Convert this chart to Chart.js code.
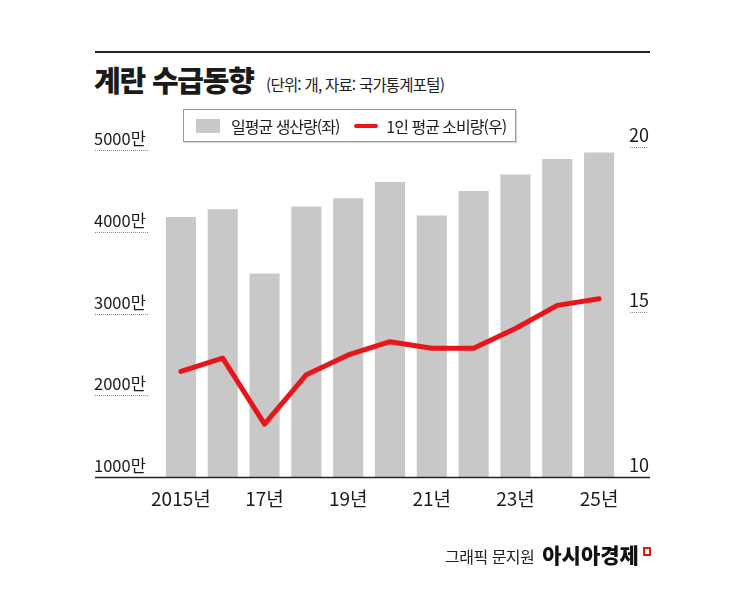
<!DOCTYPE html>
<html lang="ko">
<head>
<meta charset="utf-8">
<script src="https://cdn.jsdelivr.net/npm/chart.js@4.4.1/dist/chart.umd.min.js"></script>
<style>
    html, body { margin: 0; padding: 0; background: #fff; }
    body { width: 745px; height: 596px; position: relative; overflow: hidden;
           font-family: "Noto Sans CJK KR", "Noto Sans", sans-serif; color: #1a1a1a; }
    #chart { position: absolute; left: 0; top: 0; }
    .rule { position: absolute; left: 95px; top: 51px; width: 555px; height: 2px; background: #222; }
    .title { position: absolute; left: 94px; top: 58px; font-size: 29px; font-weight: 900; letter-spacing: -1.2px; }
    .sub { position: absolute; left: 266px; top: 73px; font-size: 15.5px; letter-spacing: -0.8px; color: #222; }
    #legend { position: absolute; left: 183px; top: 109px; width: 331px; height: 31px;
              border: 1px solid #999; background: #fff; font-size: 16px; letter-spacing: -1px;
              display: flex; align-items: center; z-index: 2; box-shadow: 1px 1px 1px rgba(0,0,0,0.15); }
    #legend .item { display: flex; align-items: center; }
    #legend .sw { display: inline-block; margin-right: 11px; }
    .footer { position: absolute; left: 445px; top: 539px; font-size: 16px; letter-spacing: -0.5px; color: #222; }
    .footer b { font-size: 21px; font-weight: 900; letter-spacing: 0px; color: #111; margin-left: 4px; }
    .mark { position: absolute; left: 643px; top: 547px; width: 4px; height: 5px; border: 2px solid #e8151b; }
</style>
</head>
<body>
<div class="rule"></div>
<div class="title">계란 수급동향</div>
<div class="sub">(단위: 개, 자료: 국가통계포털)</div>
<div id="legend"></div>
<canvas id="chart" width="745" height="596"></canvas>
<div class="footer">그래픽 문지원 <b>아시아경제</b></div>
<div class="mark"></div>
<script>
// 연도별 데이터 (생산량: 만 개, 소비량: 개)
const years = ['2015', '2016', '2017', '2018', '2019', '2020', '2021', '2022', '2023', '2024', '2025'];
const yearLabels = ['2015년', '', '17년', '', '19년', '', '21년', '', '23년', '', '25년'];
const production = [4180, 4275, 3490, 4310, 4410, 4610, 4200, 4500, 4700, 4890, 4970];
const consumption = [13.2, 13.6, 11.6, 13.1, 13.7, 14.1, 13.9, 13.9, 14.5, 15.2, 15.4];

const leftTicks = [1000, 2000, 3000, 4000, 5000];
const leftTickLabels = ['1000만', '2000만', '3000만', '4000만', '5000만'];
const rightTicks = [10, 15, 20];
const rightTickLabels = ['10', '15', '20'];

const barColor = '#c8c8c8';
const lineColor = '#e8151b';

// 축 라벨, 점선, 기준선 그리기
const axisPlugin = {
    id: 'axisLabels',
    afterDraw(chart) {
        const ctx = chart.ctx;
        const area = chart.chartArea;
        const y = chart.scales.y;
        const y1 = chart.scales.y1;
        const x = chart.scales.x;
        ctx.save();
        ctx.fillStyle = '#1a1a1a';
        ctx.textBaseline = 'alphabetic';

        ctx.font = '16.5px "Noto Sans CJK KR"';
        ctx.textAlign = 'left';
        leftTicks.forEach((v, i) => {
            const py = Math.round(y.getPixelForValue(v));
            ctx.fillText(leftTickLabels[i], 94, py - 5);
            if (i > 0) {
                ctx.strokeStyle = '#888';
                ctx.lineWidth = 1;
                ctx.setLineDash([1, 1]);
                ctx.beginPath();
                ctx.moveTo(95, py + 0.5);
                ctx.lineTo(148, py + 0.5);
                ctx.stroke();
            }
        });

        ctx.font = '18px "Noto Sans CJK KR"';
        rightTicks.forEach((v, i) => {
            const py = Math.round(y1.getPixelForValue(v));
            ctx.fillText(rightTickLabels[i], 629, py - 5);
            if (i > 0) {
                ctx.strokeStyle = '#888';
                ctx.lineWidth = 1;
                ctx.setLineDash([1, 1]);
                ctx.beginPath();
                ctx.moveTo(630, py + 0.5);
                ctx.lineTo(648, py + 0.5);
                ctx.stroke();
            }
        });

        ctx.setLineDash([]);
        ctx.strokeStyle = '#222';
        ctx.lineWidth = 1.5;
        ctx.beginPath();
        ctx.moveTo(95, area.bottom + 0.5);
        ctx.lineTo(650, area.bottom + 0.5);
        ctx.stroke();

        ctx.font = '19px "Noto Sans CJK KR"';
        ctx.textAlign = 'center';
        yearLabels.forEach((label, i) => {
            if (!label) return;
            ctx.fillText(label, x.getPixelForValue(i), area.bottom + 29);
        });
        ctx.restore();
    }
};

const chart = new Chart(document.getElementById('chart'), {
    type: 'bar',
    data: {
        labels: years,
        datasets: [{
            type: 'line',
            label: '1인 평균 소비량(우)',
            data: consumption,
            borderColor: lineColor,
            backgroundColor: lineColor,
            borderWidth: 5,
            pointRadius: 0,
            borderCapStyle: 'round',
            borderJoinStyle: 'round',
            tension: 0,
            yAxisID: 'y1',
            order: 1
        }, {
            label: '일평균 생산량(좌)',
            data: production,
            backgroundColor: barColor,
            barPercentage: 0.72,
            categoryPercentage: 1,
            yAxisID: 'y',
            order: 2
        }]
    },
    options: {
        responsive: false,
        animation: false,
        layout: { padding: { left: 160, right: 125, top: 147, bottom: 119 } },
        plugins: {
            legend: { display: false },
            tooltip: { enabled: false }
        },
        scales: {
            x: { display: false },
            y: { display: false, min: 1000, max: 5037 },
            y1: { display: false, min: 10, max: 20, position: 'right' }
        }
    },
    plugins: [axisPlugin]
});

// 범례 (데이터셋에서 생성)
const legend = document.getElementById('legend');
[chart.data.datasets[1], chart.data.datasets[0]].forEach((ds, i) => {
    const item = document.createElement('span');
    item.className = 'item';
    item.style.marginLeft = i === 0 ? '12px' : '15px';
    const sw = document.createElement('span');
    sw.className = 'sw';
    if (ds.type === 'line') {
        sw.style.cssText = 'width:24px;height:4px;border-radius:2px;background:' + ds.borderColor + ';margin-right:8px';
    } else {
        sw.style.cssText = 'width:24px;height:14px;background:' + ds.backgroundColor;
    }
    item.appendChild(sw);
    item.appendChild(document.createTextNode(ds.label));
    legend.appendChild(item);
});
</script>
</body>
</html>
